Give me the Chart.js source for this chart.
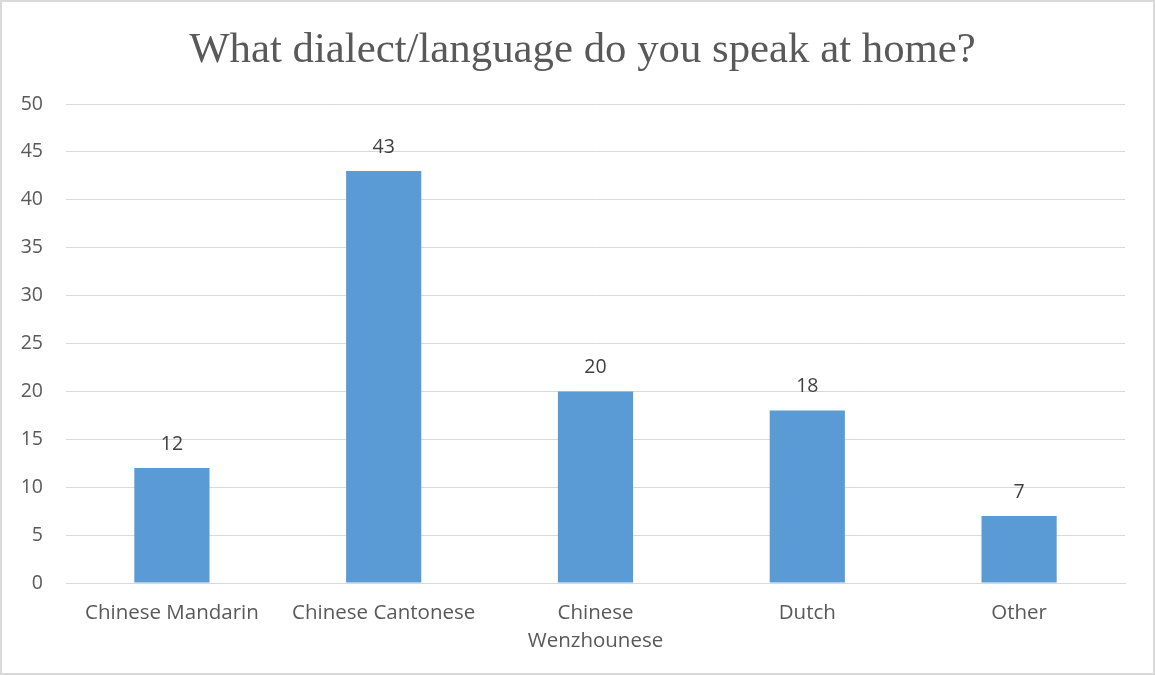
<!DOCTYPE html>
<html>
<head>
<meta charset="utf-8">
<script src="https://cdn.jsdelivr.net/npm/chart.js@4/dist/chart.umd.min.js"></script>
<style>
  html, body { margin: 0; padding: 0; background: #fff; }
  #wrap { width: 1155px; height: 675px; position: relative; }
</style>
</head>
<body>
<div id="wrap"><canvas id="langs"></canvas></div>
<script>
const categories = ['Chinese Mandarin', 'Chinese Cantonese', ['Chinese', 'Wenzhounese'], 'Dutch', 'Other']
const counts = [12, 43, 20, 18, 7]
const yTicks = [0, 5, 10, 15, 20, 25, 30, 35, 40, 45, 50]
const titleText = 'What dialect/language do you speak at home?'

const textGrey = '#595959'
const gridGrey = '#d9d9d9'

// frame around the whole chart + the heading, centred over the full frame
const frame = {
  id: 'frame',
  beforeDraw(chart) {
    const { ctx, width, height } = chart
    ctx.save()
    ctx.fillStyle = '#fff'
    ctx.fillRect(0, 0, width, height)
    ctx.strokeStyle = gridGrey
    ctx.lineWidth = 2
    ctx.strokeRect(1, 1, width - 2, height - 2)
    ctx.font = '42.8px "Liberation Serif", "Times New Roman", serif'
    ctx.fillStyle = textGrey
    ctx.textAlign = 'center'
    ctx.textBaseline = 'alphabetic'
    ctx.fillText(titleText, width / 2 + 5, 62)
    ctx.restore()
  }
}

// numbers above each bar
const valueLabels = {
  id: 'valueLabels',
  afterDatasetsDraw(chart) {
    const { ctx } = chart
    const meta = chart.getDatasetMeta(0)
    ctx.save()
    ctx.font = '19.5px "Open Sans", sans-serif'
    ctx.fillStyle = '#404040'
    ctx.textAlign = 'center'
    ctx.textBaseline = 'middle'
    meta.data.forEach((bar, i) => {
      ctx.fillText(String(counts[i]), bar.x, bar.y - 24)
    })
    ctx.restore()
  }
}

new Chart(document.getElementById('langs'), {
  type: 'bar',
  data: {
    labels: categories,
    datasets: [{
      data: counts,
      backgroundColor: '#5b9bd5',
      borderWidth: 0,
      categoryPercentage: 1,
      barPercentage: 0.355
    }]
  },
  options: {
    responsive: true,
    maintainAspectRatio: false,
    animation: false,
    layout: { padding: { top: 104, right: 30, bottom: 0, left: 0 } },
    plugins: {
      legend: { display: false },
      tooltip: { enabled: false },
      title: { display: false }
    },
    scales: {
      x: {
        grid: { display: false, drawTicks: false },
        border: { color: gridGrey, width: 1 },
        ticks: {
          color: textGrey,
          padding: 15.5,
          maxRotation: 0,
          autoSkip: false,
          font: { family: '"Open Sans", sans-serif', size: 20.5, lineHeight: 1.4 }
        },
        afterFit(scale) { scale.height = 92 }
      },
      y: {
        min: 0,
        max: 50,
        afterBuildTicks(scale) { scale.ticks = yTicks.map(v => ({ value: v })) },
        grid: { color: gridGrey, lineWidth: 1, drawTicks: false },
        border: { display: false },
        ticks: {
          color: textGrey,
          padding: 23,
          font: { family: '"Open Sans", sans-serif', size: 19.5 }
        },
        afterFit(scale) { scale.width = 66 }
      }
    }
  },
  plugins: [frame, valueLabels]
})
</script>
</body>
</html>
